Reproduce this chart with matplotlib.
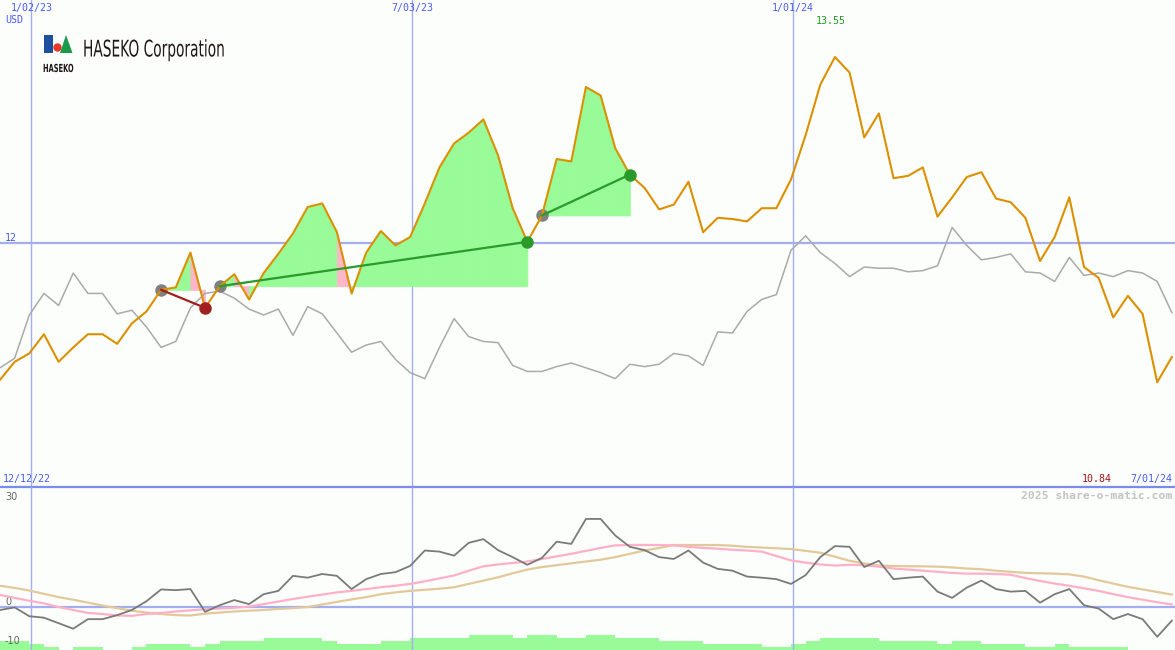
import numpy as np
import pandas as pd
import matplotlib
matplotlib.use("Agg")
import matplotlib.pyplot as plt
import matplotlib.patheffects as pe
from matplotlib.transforms import Affine2D
from matplotlib.patches import Rectangle, Circle, Polygon


# weekly closes (USD) and a comparison line on the same scale
dates = pd.date_range("2022-12-18", periods=81, freq="7D")

close = [
    10.86, 11.01, 11.08, 11.24, 11.01, 11.13, 11.24, 11.24, 11.16, 11.33,
    11.43, 11.61, 11.63, 11.92, 11.46, 11.64, 11.74, 11.53, 11.75, 11.91,
    12.08, 12.30, 12.33, 12.09, 11.58, 11.92, 12.10, 11.98, 12.05, 12.33,
    12.63, 12.83, 12.92, 13.03, 12.73, 12.29, 12.01, 12.23, 12.70, 12.68,
    13.30, 13.23, 12.79, 12.57, 12.46, 12.28, 12.32, 12.51, 12.09, 12.21,
    12.20, 12.18, 12.29, 12.29, 12.53, 12.90, 13.32, 13.55, 13.42, 12.88,
    13.08, 12.54, 12.56, 12.63, 12.22, 12.38, 12.55, 12.59, 12.37, 12.34,
    12.21, 11.85, 12.05, 12.38, 11.80, 11.71, 11.38, 11.56, 11.41, 10.84,
    11.05,
]

relative = [
    10.96, 11.04, 11.40, 11.58, 11.48, 11.75, 11.58, 11.58, 11.41, 11.44,
    11.30, 11.13, 11.18, 11.46, 11.58, 11.60, 11.54, 11.45, 11.40, 11.45,
    11.23, 11.47, 11.41, 11.25, 11.09, 11.15, 11.18, 11.03, 10.92, 10.87,
    11.13, 11.37, 11.22, 11.18, 11.17, 10.98, 10.93, 10.93, 10.97, 11.00,
    10.96, 10.92, 10.87, 10.99, 10.97, 10.99, 11.08, 11.06, 10.98, 11.26,
    11.25, 11.43, 11.53, 11.57, 11.94, 12.06, 11.92, 11.83, 11.72, 11.80,
    11.79, 11.79, 11.76, 11.77, 11.81, 12.13, 11.98, 11.86, 11.88, 11.91,
    11.76, 11.75, 11.68, 11.88, 11.73, 11.75, 11.72, 11.77, 11.75, 11.68,
    11.42,
]

# lower panel
momentum = [
    -0.8, -0.1, -2.5, -2.9, -4.4, -5.9, -3.3, -3.3, -2.2, -0.8,
    1.6, 4.8, 4.6, 4.9, -1.3, 0.5, 1.9, 0.8, 3.5, 4.4,
    8.5, 8.0, 9.0, 8.5, 4.9, 7.6, 9.0, 9.5, 11.2, 15.4,
    15.1, 14.0, 17.5, 18.5, 15.5, 13.6, 11.5, 13.4, 17.8, 17.2,
    24.0, 24.0, 19.5, 16.4, 15.5, 13.6, 13.1, 15.4, 12.1, 10.4,
    9.9, 8.3, 8.0, 7.6, 6.3, 8.7, 13.6, 16.6, 16.4, 10.9,
    12.6, 7.6, 8.0, 8.3, 4.2, 2.5, 5.3, 7.2, 4.9, 4.2,
    4.4, 1.2, 3.5, 4.9, 0.5, -0.4, -3.3, -1.9, -3.3, -8.1,
    -3.7,
]

avg_fast = [
    3.3, 2.5, 1.7, 1.0, 0.0, -0.8, -1.6, -1.9, -2.3, -2.4,
    -1.9, -1.6, -1.2, -0.9, -0.6, -0.4, -0.2, 0.1, 0.8, 1.5,
    2.2, 2.8, 3.4, 4.0, 4.4, 4.9, 5.4, 5.8, 6.3, 7.0,
    7.8, 8.6, 9.9, 11.1, 11.6, 12.0, 12.4, 13.1, 13.8, 14.5,
    15.3, 16.1, 16.8, 16.9, 16.9, 16.9, 16.8, 16.4, 16.1, 15.9,
    15.6, 15.4, 15.1, 13.9, 12.7, 12.1, 11.6, 11.3, 11.5, 11.4,
    11.0, 10.5, 10.2, 9.9, 9.6, 9.3, 9.1, 9.1, 9.0, 8.8,
    7.9, 7.1, 6.4, 5.8, 5.1, 4.4, 3.5, 2.7, 2.0, 1.3,
    0.7,
]

avg_slow = [
    5.8, 5.2, 4.5, 3.6, 2.7, 2.0, 1.2, 0.4, -0.3, -1.0,
    -1.5, -1.9, -2.2, -2.3, -1.8, -1.5, -1.2, -1.0, -0.8, -0.5,
    -0.3, 0.0, 0.7, 1.4, 2.1, 2.7, 3.5, 4.0, 4.4, 4.7,
    5.0, 5.4, 6.3, 7.2, 8.1, 9.2, 10.2, 10.9, 11.4, 11.9,
    12.4, 12.9, 13.6, 14.5, 15.4, 16.1, 16.9, 16.9, 16.9, 16.9,
    16.7, 16.4, 16.2, 16.0, 15.8, 15.3, 14.8, 13.7, 12.6, 11.9,
    11.3, 11.2, 11.1, 11.1, 11.0, 10.8, 10.5, 10.3, 9.9, 9.6,
    9.3, 9.2, 9.1, 8.9, 8.3, 7.3, 6.4, 5.5, 4.8, 4.1,
    3.4,
]

activity = [
    3, 3, 2, 1, 0, 1, 1, 0, 0, 1,
    2, 2, 2, 1, 2, 3, 3, 3, 4, 4,
    4, 4, 3, 2, 2, 2, 3, 3, 4, 4,
    4, 4, 5, 5, 5, 4, 5, 5, 4, 4,
    5, 5, 4, 4, 4, 3, 3, 3, 2, 2,
    2, 2, 1, 1, 2, 3, 4, 4, 4, 4,
    3, 3, 3, 3, 2, 3, 3, 2, 2, 2,
    1, 1, 2, 1, 1, 1, 1, 0, 0, 0,
    0,
]

# (entry week, exit week)
trades = [(11, 14), (15, 36), (37, 43)]

grid_dates = ["2023-01-02", "2023-07-03", "2024-01-01"]
grid_labels = ["1/02/23", "7/03/23", "1/01/24"]

BG = "#fbfefb"
GRID = "#a3aef0"
BLUE_TXT = "#4a5cf0"
ORANGE = "#dc9000"
GREEN_FILL = "#98fb98"
PINK_FILL = "#ffb6c8"


class Squeeze(pe.AbstractPathEffect):
    # narrow the glyphs horizontally around a fixed x (display pixels)
    def __init__(self, sx, x0):
        super().__init__()
        self.sx = sx
        self.x0 = x0

    def draw_path(self, renderer, gc, tpath, affine, rgbFace=None):
        a = affine + Affine2D().translate(-self.x0, 0).scale(self.sx, 1).translate(self.x0, 0)
        renderer.draw_path(gc, tpath, a, rgbFace)


W, H = 1175, 650
fig = plt.figure(figsize=(W / 100, H / 100), dpi=100, facecolor=BG)

ax1 = fig.add_axes([0, 163 / H, 1, 487 / H], facecolor=BG)
ax2 = fig.add_axes([0, 0, 1, 163 / H], facecolor=BG)

xmin = pd.Timestamp("2022-12-18")
xmax = pd.Timestamp("2024-07-01 12:00")

for ax in (ax1, ax2):
    ax.set_xlim(xmin, xmax)
    for s in ax.spines.values():
        s.set_visible(False)
    ax.set_xticks([])
    ax.set_yticks([])
    for d in grid_dates:
        ax.axvline(pd.Timestamp(d), color=GRID, lw=1.0, zorder=1)

ax1.set_ylim(9.967, 14.025)
ax2.set_ylim(-11.7, 32.7)

ax1.axhline(12, color=GRID, lw=1.6, zorder=1)
ax2.axhline(0, color=GRID, lw=1.6, zorder=1)

# trade fills, one weekly slice at a time
for s, e in trades:
    base = close[s]
    for k in range(s + 1, e + 1):
        col = GREEN_FILL if close[k] >= base else PINK_FILL
        ax1.fill_between([dates[k - 1], dates[k]], [close[k - 1], close[k]], base,
                         facecolor=col, edgecolor=col, lw=0.6, zorder=2)

ax1.plot(dates, relative, color="#aaaaaa", lw=1.1, zorder=3)

for s, e in trades:
    ax1.plot(dates[s], close[s], "o", ms=9, color="#808080", mec="none", zorder=3)

ax1.plot(dates, close, color=ORANGE, lw=1.5, zorder=4)

for s, e in trades:
    win = close[e] >= close[s]
    lc = "#2a9a2a" if win else "#a02020"
    ax1.plot([dates[s], dates[e]], [close[s], close[e]], color=lc, lw=1.6, zorder=5)
    ax1.plot(dates[e], close[e], "o", ms=9, color=lc, mec="none", zorder=6)

# lower panel
ax3 = ax2.twinx()
ax3.set_ylim(0, 163 / 3)
ax3.set_yticks([])
for s in ax3.spines.values():
    s.set_visible(False)
ax3.bar(dates, activity, width=7, align="edge", color=GREEN_FILL, lw=0, zorder=1)
ax2.set_zorder(ax3.get_zorder() + 1)
ax2.patch.set_visible(False)
ax3.patch.set_facecolor(BG)

ax2.plot(dates, avg_slow, color="#e3c99a", lw=1.6, zorder=3)
ax2.plot(dates, avg_fast, color="#ffb0c8", lw=1.6, zorder=3)
ax2.plot(dates, momentum, color="#7a7a7a", lw=1.3, zorder=4)

# overlay in pixel coordinates for labels and logo
ov = fig.add_axes([0, 0, 1, 1], facecolor="none")
ov.set_xlim(0, W)
ov.set_ylim(H, 0)
ov.axis("off")

ov.plot([0, W], [487, 487], color="#7b8aec", lw=1.6)

mono = "DejaVu Sans Mono"
for d, lab in zip(grid_dates, grid_labels):
    xp = (pd.Timestamp(d) - xmin) / (xmax - xmin) * W
    ov.text(xp, 8, lab, ha="center", va="center", fontsize=7.2, family=mono, color=BLUE_TXT)

ov.text(5, 20, "USD", ha="left", va="center", fontsize=7.2, family=mono, color=BLUE_TXT)
ov.text(5, 238, "12", ha="left", va="center", fontsize=7.2, family=mono, color=BLUE_TXT)
ov.text(831, 21, f"{max(close):.2f}", ha="center", va="center", fontsize=7.2, family=mono,
        color="#229922")
ov.text(3, 479, "12/12/22", ha="left", va="center", fontsize=7.2, family=mono, color=BLUE_TXT)
ov.text(1112, 479, f"{min(close):.2f}", ha="right", va="center", fontsize=7.2, family=mono,
        color="#a01818")
ov.text(1172, 479, "7/01/24", ha="right", va="center", fontsize=7.2, family=mono, color=BLUE_TXT)
ov.text(1172, 496, "2025 share-o-matic.com", ha="right", va="center", fontsize=8.2,
        family=mono, weight="bold", color="#c4c4c4")

for val, yp in [("30", 497), ("0", 602), ("-10", 641)]:
    ov.text(5, yp, val, ha="left", va="center", fontsize=7, color="#666666")

# logo
ov.add_patch(Rectangle((44, 35), 9, 18, color="#1d4f9c", lw=0))
ov.add_patch(Circle((57.5, 47.5), 4.2, color="#e83828", lw=0))
ov.add_patch(Polygon([(60, 53), (66, 35), (72.5, 53)], closed=True, color="#1a9a4a", lw=0))
ov.text(43, 69, "HASEKO", ha="left", va="center", fontsize=8, weight="bold",
        family="DejaVu Sans", color="#231815",
        path_effects=[Squeeze(0.6, 43)])
ov.text(83, 50, "HASEKO Corporation", ha="left", va="center", fontsize=16.5,
        family="DejaVu Sans", color="#231815",
        path_effects=[Squeeze(0.6, 83)])

fig.savefig("out.png", dpi=100, facecolor=BG)
